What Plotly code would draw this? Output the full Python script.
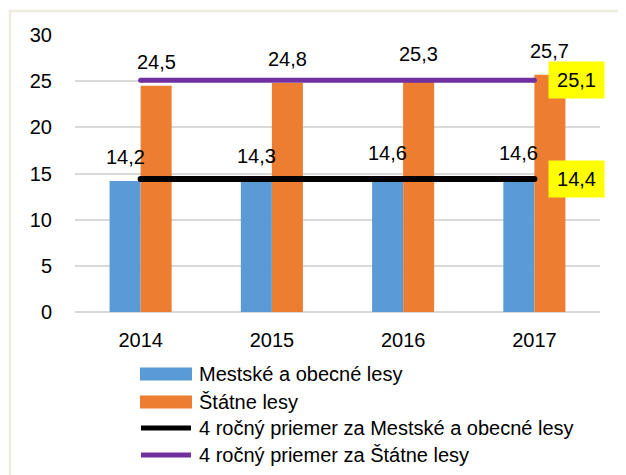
import plotly.graph_objects as go

years = ["2014", "2015", "2016", "2017"]
mestske = [14.2, 14.3, 14.6, 14.6]
statne = [24.5, 24.8, 25.3, 25.7]
avg_mestske = 14.4
avg_statne = 25.1
y_ticks = [0, 5, 10, 15, 20, 25, 30]

names = ["Mestské a obecné lesy", "Štátne lesy",
         "4 ročný priemer za Mestské a obecné lesy", "4 ročný priemer za Štátne lesy"]
c_blue, c_orange, c_black, c_purple = "#5B9BD5", "#ED7D31", "#000000", "#7030A0"

FONT = "Liberation Sans, Arial, sans-serif"
FS = 20


def fmt(v):
    return f"{v:.1f}".replace(".", ",")


fig = go.Figure()
fig.add_trace(go.Bar(x=years, y=mestske, name=names[0], marker=dict(color=c_blue, line=dict(width=0))))
fig.add_trace(go.Bar(x=years, y=statne, name=names[1], marker=dict(color=c_orange, line=dict(width=0))))

for avg, col, w, nm in [(avg_mestske, c_black, 6, names[2]), (avg_statne, c_purple, 5, names[3])]:
    fig.add_trace(go.Scatter(x=[years[0], years[-1]], y=[avg, avg], mode="lines+markers", name=nm,
                             line=dict(color=col, width=w), marker=dict(color=col, size=w),
                             hoverinfo="skip"))

annotations = []
# data labels above bars (x given as category index)
for i in range(len(years)):
    for vals, xs in [(mestske, -15.5), (statne, 15.5)]:
        annotations.append(dict(x=i, y=vals[i], xref="x", yref="y", text=fmt(vals[i]),
                                showarrow=False, xshift=xs, yshift=11, yanchor="bottom",
                                font=dict(family=FONT, size=FS, color="#000")))
# average value boxes
for avg in [avg_mestske, avg_statne]:
    annotations.append(dict(x=len(years) - 1, y=avg, xref="x", yref="y", text=fmt(avg), showarrow=False,
                            xshift=42.5, bgcolor="#FFFF00", borderpad=6, width=43, height=24,
                            font=dict(family=FONT, size=FS, color="#000")))

# page offset (body margin of the html page)
OFF = 8
W, H = 626 - OFF, 475 - OFF
# plot area in page pixels
L, R, T, B = 75, 600, 35, 312


def px(xp):
    return (xp - L) / (R - L)


def py(yp):
    return (B - yp) / (B - T)


shapes = []
rows = [374, 402, 428, 455]
kinds = [("rect", c_blue), ("rect", c_orange), ("line", c_black), ("line", c_purple)]
for nm, yc, (kind, col) in zip(names, rows, kinds):
    if kind == "rect":
        shapes.append(dict(type="rect", xref="paper", yref="paper", x0=px(140), x1=px(192),
                           y0=py(yc + 6.5), y1=py(yc - 6.5), fillcolor=col, line=dict(width=0)))
    else:
        shapes.append(dict(type="line", xref="paper", yref="paper", x0=px(141), x1=px(191),
                           y0=py(yc), y1=py(yc), line=dict(color=col, width=5)))
    annotations.append(dict(x=px(197), y=py(yc), xref="paper", yref="paper", text=nm,
                            showarrow=False, xanchor="left", yanchor="middle",
                            font=dict(family=FONT, size=FS, color="#000")))

# outer frame (beige)
frame_col = "#EEECE1"
shapes.append(dict(type="line", xref="paper", yref="paper", x0=px(10), x1=px(10),
                   y0=py(10), y1=py(480), line=dict(color=frame_col, width=2.5)))
shapes.append(dict(type="line", xref="paper", yref="paper", x0=px(9), x1=px(630),
                   y0=py(11), y1=py(11), line=dict(color=frame_col, width=2.5)))

fig.update_layout(
    width=W, height=H,
    margin=dict(l=L - OFF, r=OFF + W - R, t=T - OFF, b=OFF + H - B),
    paper_bgcolor="white", plot_bgcolor="white",
    barmode="group", bargap=0.527, bargroupgap=0,
    showlegend=False,
    font=dict(family=FONT, size=FS, color="#000"),
    annotations=annotations, shapes=shapes,
    xaxis=dict(type="category", range=[-0.5, len(years) - 0.5], showgrid=False, showline=False,
               zeroline=False, ticks="outside", ticklen=10, tickcolor="rgba(0,0,0,0)",
               tickfont=dict(family=FONT, size=FS, color="#000")),
    yaxis=dict(range=[0, 30], tickvals=y_ticks, showgrid=True, gridcolor="#D9D9D9", gridwidth=1.5,
               zeroline=True, zerolinecolor="#D9D9D9", zerolinewidth=1.5, showline=False,
               ticks="outside", ticklen=18, tickcolor="rgba(0,0,0,0)",
               tickfont=dict(family=FONT, size=FS, color="#000")),
)

fig.write_html("out.html")
